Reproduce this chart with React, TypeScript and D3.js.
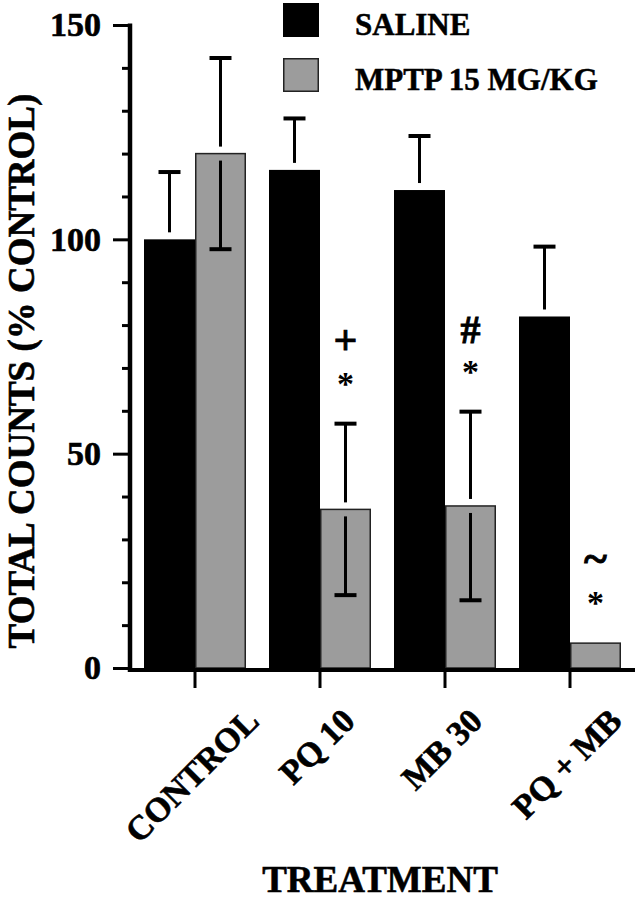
import React, { useEffect, useRef } from "react";
import * as d3 from "d3";

const categories = ["CONTROL", "PQ 10", "MB 30", "PQ + MB"];
const seriesNames = ["SALINE", "MPTP 15 MG/KG"];
const salineMean = [100, 116.2, 111.5, 82];
const salineSem = [15.7, 12, 12.6, 16.3];
const mptpMean = [120, 37, 37.8, 5.8];
const mptpSem = [22.3, 20, 22, 0];
const annotations = [[], ["*", "+"], ["*", "#"], ["*", "~"]];
const yMajorTicks = [0, 50, 100, 150];
const yMinorTicks = [10, 20, 30, 40, 60, 70, 80, 90, 110, 120, 130, 140];

const FONT = "'Liberation Serif', 'Times New Roman', Times, serif";
const GRAY = "#9c9c9c";

export default function App() {
  const ref = useRef<SVGSVGElement | null>(null);

  useEffect(() => {
    const svg = d3.select(ref.current);
    svg.selectAll("*").remove();

    const y = d3.scaleLinear().domain([0, 150]).range([668, 25]);
    const x0 = d3.scaleBand().domain(categories).range([131, 634]).paddingInner(0.184).paddingOuter(0.104);
    const x1 = d3.scaleBand().domain(["saline", "mptp"]).range([0, x0.bandwidth()]).padding(0);

    const data = categories.map((c, i) => ({
      c,
      bars: [
        { key: "saline", mean: salineMean[i], sem: salineSem[i], fill: "#000", stroke: "none" },
        { key: "mptp", mean: mptpMean[i], sem: mptpSem[i], fill: GRAY, stroke: "#222" },
      ],
      ann: annotations[i],
    }));

    const g = svg.append("g");

    const groups = g.selectAll("g.grp").data(data).enter().append("g")
      .attr("transform", (d) => `translate(${x0(d.c)},0)`);

    groups.selectAll("rect").data((d) => d.bars).enter().append("rect")
      .attr("x", (b) => x1(b.key)! + (b.stroke === "none" ? 0 : 0.75))
      .attr("width", (b) => x1.bandwidth() - (b.stroke === "none" ? 0 : 1.5))
      .attr("y", (b) => y(b.mean))
      .attr("height", (b) => y(0) - y(b.mean))
      .attr("fill", (b) => b.fill)
      .attr("stroke", (b) => b.stroke)
      .attr("stroke-width", 1.5);

    const gap = 7;
    const capW = 22;
    groups.each(function (d) {
      const gg = d3.select(this);
      d.bars.forEach((b) => {
        if (b.sem <= 0) return;
        const cx = x1(b.key)! + x1.bandwidth() / 2;
        gg.append("line").attr("x1", cx).attr("x2", cx)
          .attr("y1", y(b.mean) - gap).attr("y2", y(b.mean + b.sem))
          .attr("stroke", "#000").attr("stroke-width", 3);
        gg.append("line").attr("x1", cx - capW / 2).attr("x2", cx + capW / 2)
          .attr("y1", y(b.mean + b.sem)).attr("y2", y(b.mean + b.sem))
          .attr("stroke", "#000").attr("stroke-width", 4);
        if (b.key === "mptp") {
          gg.append("line").attr("x1", cx).attr("x2", cx)
            .attr("y1", y(b.mean) + gap).attr("y2", y(b.mean - b.sem))
            .attr("stroke", "#000").attr("stroke-width", 3);
          gg.append("line").attr("x1", cx - capW / 2).attr("x2", cx + capW / 2)
            .attr("y1", y(b.mean - b.sem)).attr("y2", y(b.mean - b.sem))
            .attr("stroke", "#000").attr("stroke-width", 4);
        }
      });
      const m = d.bars[1];
      const cx = x1("mptp")! + x1.bandwidth() / 2;
      const base = y(m.mean + m.sem);
      const offsets: Record<string, number> = { "*": 0.42, "+": 0.3, "#": 0.34, "~": 0.27 };
      const sizes: Record<string, number> = { "*": 34, "+": 42, "#": 40, "~": 44 };
      d.ann.forEach((s, k) => {
        const centerY = base - 43 - k * 39;
        const fs = sizes[s];
        gg.append("text").attr("x", cx).attr("y", centerY + offsets[s] * fs)
          .attr("text-anchor", "middle").attr("font-family", FONT).attr("font-weight", "bold")
          .attr("font-size", fs).attr("stroke", "#000").attr("stroke-width", s === "*" ? 0 : 0.8).text(s);
      });
    });

    const yAxisMajor = d3.axisLeft(y).tickValues(yMajorTicks).tickSize(17).tickPadding(12).tickFormat(d3.format("d"));
    const ya = g.append("g").attr("transform", "translate(130,0)").call(yAxisMajor);
    ya.select(".domain").remove();
    ya.selectAll(".tick line").attr("stroke", "#000").attr("stroke-width", 3);
    ya.selectAll(".tick text").attr("font-family", FONT).attr("font-weight", "bold")
      .attr("font-size", 34).attr("fill", "#000").attr("stroke", "#000").attr("stroke-width", 0.6);
    const yAxisMinor = d3.axisLeft(y).tickValues(yMinorTicks).tickSize(8).tickFormat(() => "");
    const ym = g.append("g").attr("transform", "translate(130,0)").call(yAxisMinor);
    ym.select(".domain").remove();
    ym.selectAll(".tick line").attr("stroke", "#000").attr("stroke-width", 3);

    g.append("line").attr("x1", 130).attr("x2", 130).attr("y1", y(150) - 1.5).attr("y2", 672)
      .attr("stroke", "#000").attr("stroke-width", 4.5);

    g.append("line").attr("x1", 128).attr("x2", 635).attr("y1", 670).attr("y2", 670)
      .attr("stroke", "#000").attr("stroke-width", 4);
    categories.forEach((c) => {
      const cx = x0(c)! + x0.bandwidth() / 2;
      g.append("line").attr("x1", cx).attr("x2", cx).attr("y1", 671).attr("y2", 688)
        .attr("stroke", "#000").attr("stroke-width", 3);
    });

    const lfs = 34;
    const hh = 0.66 * lfs;
    categories.forEach((c) => {
      const cx = x0(c)! + x0.bandwidth() / 2 - 3;
      const t = g.append("text").attr("text-anchor", "middle").attr("font-family", FONT)
        .attr("font-weight", "bold").attr("font-size", lfs).attr("y", hh / 2)
        .attr("stroke", "#000").attr("stroke-width", 0.6).text(c);
      const w = (t.node() as SVGTextElement).getComputedTextLength();
      const side = 0.7071 * (w + hh);
      t.attr("transform", `translate(${cx},${707 + side / 2}) rotate(-45)`);
    });

    g.append("text").attr("text-anchor", "middle").attr("font-family", FONT).attr("font-weight", "bold")
      .attr("font-size", 37).attr("x", 380).attr("y", 892)
      .attr("stroke", "#000").attr("stroke-width", 0.6).text("TREATMENT");
    g.append("text").attr("text-anchor", "middle").attr("font-family", FONT).attr("font-weight", "bold")
      .attr("font-size", 37).attr("transform", "translate(34,371) rotate(-90)")
      .attr("stroke", "#000").attr("stroke-width", 0.6).text("TOTAL COUNTS (% CONTROL)");

    const legY = [3, 58];
    seriesNames.forEach((s, i) => {
      g.append("rect").attr("x", i === 0 ? 283 : 283.75).attr("y", legY[i] + (i === 0 ? 0 : 0.75))
        .attr("width", i === 0 ? 36 : 34.5).attr("height", i === 0 ? 34 : 32.5)
        .attr("fill", i === 0 ? "#000" : GRAY).attr("stroke", i === 0 ? "none" : "#222").attr("stroke-width", 1.5);
      g.append("text").attr("x", 355).attr("y", legY[i] + 32).attr("font-family", FONT)
        .attr("font-weight", "bold").attr("font-size", 31)
        .attr("stroke", "#000").attr("stroke-width", 0.5).text(s);
    });
  }, []);

  return (
    <svg ref={ref} width={638} height={900} style={{ position: "absolute", left: 0, top: 0, background: "#fff" }} />
  );
}
